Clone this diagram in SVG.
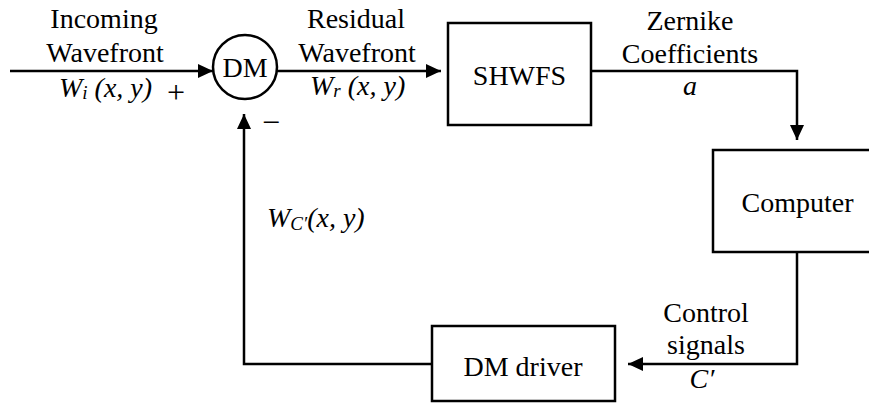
<svg xmlns="http://www.w3.org/2000/svg" width="869" height="403" viewBox="0 0 869 403">
<style>
text{font-family:'Liberation Serif','Times New Roman',serif;font-size:28px;fill:#000}
.m{text-anchor:middle}
.i{font-style:italic}
.sub{font-size:19px}
.pm{font-size:32px}
.box{fill:#fff;stroke:#000;stroke-width:2.5}
.ln{fill:none;stroke:#000;stroke-width:2.5}
</style>
<defs>
<marker id="ah" markerUnits="userSpaceOnUse" markerWidth="16" markerHeight="16" refX="15" refY="7" orient="auto">
<path d="M0,0 L15,7 L0,14 z" fill="#000"/>
</marker>
</defs>
<g id="connectors">
<line class="ln" x1="10" y1="71" x2="213" y2="71" marker-end="url(#ah)"/>
<line class="ln" x1="277" y1="71" x2="441" y2="71" marker-end="url(#ah)"/>
<polyline class="ln" points="591,71 797,71 797,140" marker-end="url(#ah)"/>
<polyline class="ln" points="797,252 797,364 628,364" marker-end="url(#ah)"/>
<polyline class="ln" points="432,364 244,364 244,114" marker-end="url(#ah)"/>
</g>
<g id="labels">
<text class="m" x="104" y="28">Incoming</text>
<text class="m" x="105" y="62">Wavefront</text>
<text x="59" y="97" class="i">W<tspan class="sub" dy="2">i</tspan><tspan dy="-2"> (x, y)</tspan></text>
<text class="m pm" x="176" y="103">+</text>
<text class="m pm" x="271" y="133">−</text>
<text class="m" x="356" y="28">Residual</text>
<text class="m" x="357" y="62">Wavefront</text>
<text x="310" y="95" class="i">W<tspan class="sub" dy="2">r</tspan><tspan dy="-2"> (x, y)</tspan></text>
<text class="m" x="690" y="30">Zernike</text>
<text class="m" x="690" y="63">Coefficients</text>
<text class="m i" x="690" y="95">a</text>
<text x="267" y="227" class="i">W<tspan class="sub" dy="3">C′</tspan><tspan dy="-3">(x, y)</tspan></text>
<text class="m" x="706" y="322">Control</text>
<text class="m" x="706" y="354">signals</text>
<text class="m i" x="702" y="388">C′</text>
</g>
<g id="dm">
<circle class="box" cx="245" cy="67" r="32"/>
<text class="m" x="245" y="77">DM</text>
</g>
<g id="shwfs">
<rect class="box" x="448" y="23" width="143" height="102"/>
<text class="m" x="519.5" y="85">SHWFS</text>
</g>
<g id="computer">
<rect class="box" x="713" y="150" width="170" height="102"/>
<text class="m" x="797.5" y="212">Computer</text>
</g>
<g id="dm-driver">
<rect class="box" x="432" y="326" width="183" height="75"/>
<text class="m" x="523" y="376">DM driver</text>
</g>
</svg>
